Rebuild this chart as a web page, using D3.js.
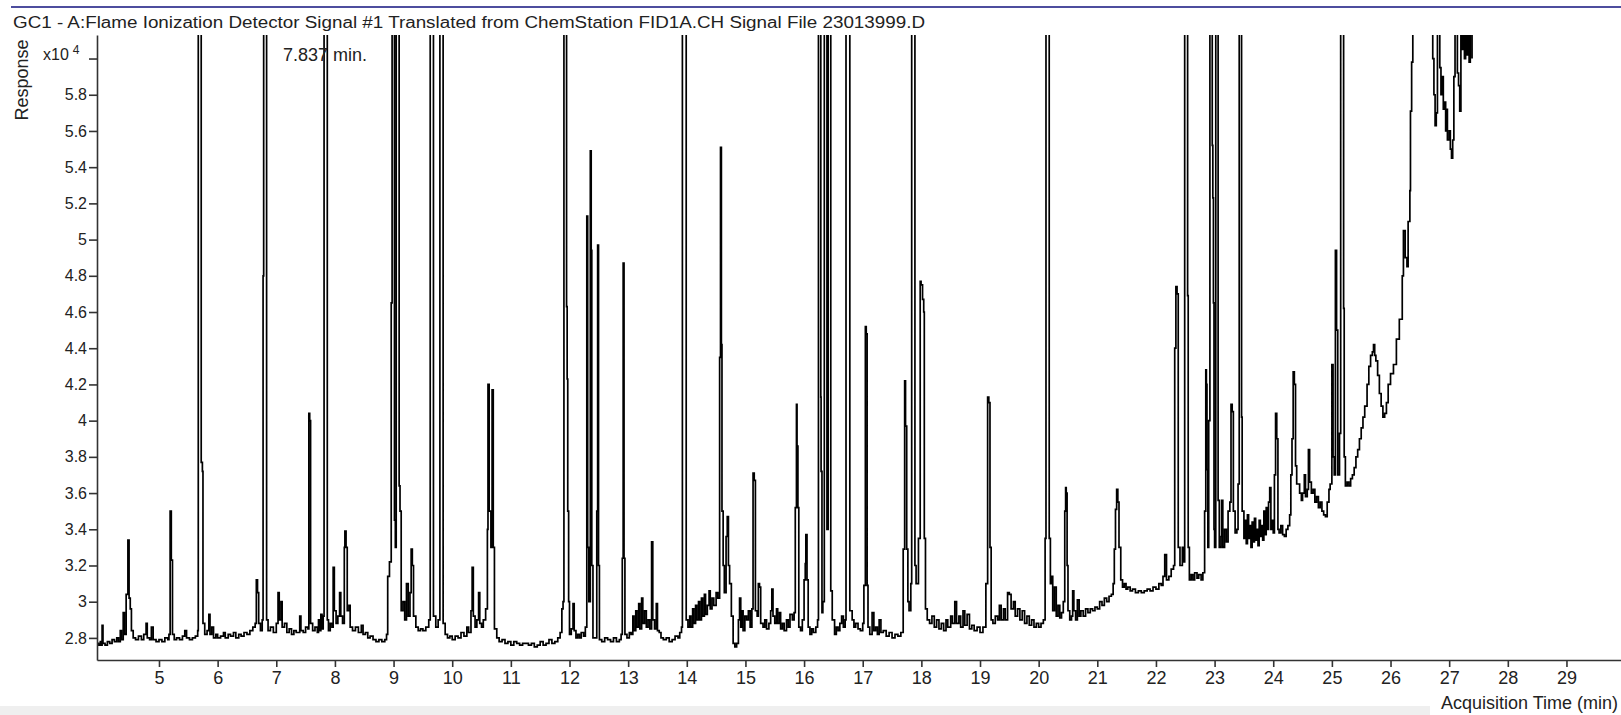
<!DOCTYPE html>
<html>
<head>
<meta charset="utf-8">
<script src="https://cdn.jsdelivr.net/npm/d3@7"></script>
<style>
  body { margin: 0; background: #fff; }
  svg { display: block; font-family: "Liberation Sans", Arial, sans-serif; }
  .axis path, .axis line { stroke: #333; stroke-width: 1.6; }
  .axis text { fill: #222; }
</style>
</head>
<body>
<div id="vis"></div>
<script>
var viewWidth = 1621;
var viewHeight = 715;

/* Acquisition time ticks (min) */
var timeTicks = [5, 6, 7, 8, 9, 10, 11, 12, 13, 14, 15, 16, 17, 18, 19, 20, 21, 22, 23, 24, 25, 26, 27, 28, 29];

/* Response ticks (x10^4); the top one carries the exponent label */
var responseTicks = [2.8, 3.0, 3.2, 3.4, 3.6, 3.8, 4.0, 4.2, 4.4, 4.6, 4.8, 5.0, 5.2, 5.4, 5.6, 5.8, 6.0];

/* Marked peak */
var markerLabel = "7.837 min.";

/* Signal: [time (min), response (x10^4)]
   peaks that leave the top of the window are given a value above it */
var signal04to08 = [
  [3.94,2.77],[3.97,2.76],[4.0,2.78],[4.02,2.76],[4.03,2.87],[4.045,2.77],[4.08,2.76],[4.12,2.78],[4.16,2.77],[4.2,2.79],
  [4.24,2.78],[4.28,2.80],[4.31,2.78],[4.34,2.84],[4.36,2.79],[4.39,2.94],[4.41,2.82],[4.44,3.04],[4.47,3.34],[4.49,3.02],
  [4.51,2.96],[4.53,2.84],[4.56,2.80],[4.6,2.79],[4.65,2.81],[4.7,2.79],[4.74,2.82],[4.78,2.88],[4.8,2.80],[4.84,2.79],
  [4.87,2.86],[4.9,2.79],[4.95,2.78],[5.0,2.79],[5.05,2.78],[5.1,2.80],[5.15,2.79],[5.17,2.82],[5.19,3.50],[5.21,3.23],
  [5.23,2.82],[5.26,2.79],[5.3,2.80],[5.35,2.79],[5.4,2.81],[5.44,2.84],[5.47,2.80],[5.52,2.79],[5.57,2.80],[5.62,2.81],
  [5.66,2.84],[5.67,6.6],[5.71,6.6],[5.72,3.77],[5.74,3.72],[5.75,2.88],[5.78,2.82],[5.82,2.84],[5.85,2.93],[5.87,2.82],
  [5.9,2.86],[5.93,2.80],[5.97,2.82],[6.0,2.80],[6.05,2.81],[6.1,2.83],[6.13,2.80],[6.18,2.82],[6.22,2.81],[6.27,2.83],
  [6.31,2.80],[6.36,2.82],[6.4,2.81],[6.45,2.83],[6.5,2.82],[6.55,2.84],[6.6,2.86],[6.64,2.88],[6.66,3.12],[6.68,3.05],
  [6.70,2.88],[6.73,2.84],[6.76,2.90],[6.775,4.8],[6.785,6.6],[6.825,6.6],[6.835,2.9],[6.86,2.84],[6.9,2.86],[6.95,2.83],
  [7.0,2.88],[7.03,3.05],[7.05,2.9],[7.08,3.0],[7.1,2.86],[7.14,2.88],[7.18,2.83],[7.22,2.85],[7.26,2.82],[7.3,2.84],
  [7.34,2.83],[7.4,2.92],[7.42,2.84],[7.46,2.83],[7.5,2.86],[7.54,2.85],[7.555,4.04],[7.57,4.0],[7.585,2.88],[7.62,2.84],
  [7.66,2.86],[7.7,2.83],[7.72,2.9],[7.74,2.84],[7.76,2.93],[7.78,2.85],[7.8,2.92],[7.815,6.6],[7.855,6.6],[7.87,2.9],
  [7.89,2.84],[7.92,2.88],[7.95,2.86],[7.97,3.19],[7.99,2.95]
];

var signal08to12 = [
  [8.02,2.88],[8.05,2.92],[8.08,3.05],[8.1,2.92],[8.13,2.88],[8.16,3.3],[8.17,3.39],[8.19,3.3],[8.21,2.95],[8.24,2.98],
  [8.26,2.86],[8.3,2.84],[8.35,2.86],[8.4,2.83],[8.45,2.87],[8.48,2.82],[8.52,2.83],[8.56,2.80],[8.6,2.81],[8.65,2.79],
  [8.7,2.78],[8.75,2.79],[8.8,2.78],[8.85,2.79],[8.88,2.82],[8.9,3.14],[8.93,3.22],[8.96,4.65],[8.975,6.6],[9.0,6.6],
  [9.015,3.45],[9.03,3.3],[9.045,6.6],[9.08,6.6],[9.095,3.64],[9.11,3.5],[9.13,2.95],[9.16,3.0],[9.19,2.9],[9.22,3.1],
  [9.25,2.92],[9.28,3.05],[9.3,3.29],[9.32,3.2],[9.34,2.92],[9.38,2.86],[9.42,2.84],[9.46,2.85],[9.5,2.84],[9.55,2.86],
  [9.6,2.9],[9.625,6.6],[9.665,6.6],[9.68,2.92],[9.72,2.86],[9.76,2.9],[9.79,6.6],[9.83,6.6],[9.845,2.88],[9.88,2.82],
  [9.92,2.80],[9.96,2.81],[10.0,2.79],[10.05,2.81],[10.1,2.80],[10.15,2.83],[10.2,2.81],[10.25,2.86],[10.28,2.83],[10.32,2.95],
  [10.34,3.19],[10.36,2.92],[10.39,2.86],[10.42,2.9],[10.45,3.05],[10.47,2.88],[10.5,2.86],[10.53,2.9],[10.57,2.96],[10.6,3.4],
  [10.61,4.2],[10.63,3.5],[10.66,3.3],[10.68,4.17],[10.7,3.3],[10.72,2.85],[10.76,2.80],[10.8,2.78],[10.85,2.79],[10.9,2.77],
  [10.95,2.78],[11.0,2.76],[11.05,2.78],[11.1,2.77],[11.15,2.76],[11.2,2.77],[11.3,2.76],[11.35,2.77],[11.4,2.75],[11.45,2.76],
  [11.5,2.78],[11.55,2.76],[11.6,2.77],[11.65,2.79],[11.7,2.77],[11.75,2.78],[11.8,2.8],[11.84,2.83],[11.87,2.96],[11.89,3.0],
  [11.905,6.6],[11.94,6.6],[11.95,4.63],[11.96,4.23],[11.97,3.5],[11.985,3.0]
];

var signal12to16 = [
  [12.0,2.82],[12.03,2.85],[12.06,2.99],[12.08,2.84],[12.11,2.8],[12.14,2.82],[12.17,2.8],[12.2,2.83],[12.24,2.81],[12.27,2.86],
  [12.295,5.13],[12.31,3.3],[12.33,3.0],[12.355,5.49],[12.37,4.94],[12.38,3.2],[12.4,2.8],[12.44,2.8],[12.465,3.5],[12.48,4.97],
  [12.495,3.2],[12.51,2.79],[12.55,2.78],[12.6,2.80],[12.65,2.79],[12.7,2.78],[12.75,2.80],[12.8,2.78],[12.85,2.79],[12.88,2.82],
  [12.9,3.24],[12.915,4.87],[12.93,3.24],[12.945,2.82],[12.98,2.8],[13.02,2.83],[13.05,2.82],[13.08,2.92],[13.1,2.84],[13.13,2.95],
  [13.15,2.86],[13.18,2.99],[13.2,2.85],[13.23,3.02],[13.25,2.88],[13.28,2.95],[13.31,2.86],[13.34,2.9],[13.37,2.85],[13.4,3.33],
  [13.42,2.9],[13.45,2.85],[13.48,2.99],[13.5,2.84],[13.53,2.83],[13.56,2.8],[13.6,2.79],[13.65,2.8],[13.7,2.78],[13.75,2.79],
  [13.8,2.81],[13.85,2.8],[13.88,2.83],[13.91,2.86],[13.925,6.6],[13.975,6.6],[13.99,2.9],[14.02,2.86],[14.05,2.92],[14.07,2.86],
  [14.1,2.96],[14.12,2.88],[14.15,2.98],[14.17,2.9],[14.2,3.0],[14.22,2.9],[14.25,3.02],[14.27,2.92],[14.3,3.04],[14.32,2.93],
  [14.35,2.98],[14.38,3.06],[14.4,2.96],[14.43,3.02],[14.46,2.98],[14.5,3.05],[14.53,3.02],[14.56,4.35],[14.575,5.51],[14.59,4.42],
  [14.6,3.5],[14.62,3.2],[14.64,3.05],[14.67,3.36],[14.69,3.47],[14.71,3.2],[14.73,3.1],[14.76,2.92],[14.79,2.77],[14.82,2.75],
  [14.85,2.77],[14.88,2.9],[14.9,3.02],[14.92,2.86],[14.94,2.95],[14.96,2.84],[14.99,2.92],[15.02,2.9],[15.05,2.95],[15.08,2.86],
  [15.11,2.96],[15.13,3.71],[15.15,3.67],[15.17,2.95],[15.2,2.92],[15.22,3.1],[15.24,3.08],[15.26,2.88],[15.3,2.86],[15.33,2.9],
  [15.36,2.85],[15.4,2.88],[15.43,2.95],[15.45,3.07],[15.47,2.92],[15.5,2.88],[15.53,2.96],[15.55,2.88],[15.58,2.94],[15.6,2.85],
  [15.63,2.88],[15.66,2.84],[15.7,2.9],[15.73,2.86],[15.76,2.93],[15.8,2.9],[15.83,2.94],[15.85,3.52],[15.87,4.09],[15.88,3.86],
  [15.895,3.52],[15.91,2.86],[15.94,2.84],[15.97,2.9]
];

var signal16to20 = [
  [16.0,3.12],[16.02,3.21],[16.03,3.37],[16.05,3.12],[16.07,2.86],[16.1,2.82],[16.13,2.85],[16.16,2.83],[16.2,2.86],[16.23,2.9],
  [16.245,6.6],[16.275,6.6],[16.285,4.13],[16.29,3.72],[16.305,2.94],[16.32,3.0],[16.345,6.6],[16.38,6.6],[16.39,3.4],[16.41,6.6],
  [16.44,6.6],[16.455,3.06],[16.48,2.9],[16.52,2.82],[16.55,2.86],[16.58,2.84],[16.61,2.88],[16.64,2.92],[16.67,2.86],[16.7,2.9],
  [16.715,6.6],[16.765,6.6],[16.78,2.95],[16.82,2.9],[16.85,2.86],[16.88,2.88],[16.92,2.85],[16.96,2.84],[17.0,2.88],[17.02,3.09],
  [17.045,4.52],[17.06,4.48],[17.075,3.09],[17.09,2.86],[17.12,2.82],[17.16,2.94],[17.19,2.84],[17.22,2.86],[17.25,2.82],[17.28,2.9],
  [17.31,2.83],[17.35,2.84],[17.4,2.81],[17.45,2.83],[17.5,2.8],[17.55,2.82],[17.6,2.81],[17.65,2.83],[17.69,3.29],[17.715,4.22],
  [17.73,3.97],[17.75,3.29],[17.77,3.0],[17.79,2.95],[17.82,3.1],[17.835,6.6],[17.875,6.6],[17.89,3.2],[17.91,3.1],[17.95,3.35],
  [17.98,4.77],[17.995,4.75],[18.02,4.67],[18.04,4.6],[18.05,3.35],[18.07,2.96],[18.1,2.9],[18.14,2.88],[18.18,2.92],[18.22,2.86],
  [18.26,2.9],[18.3,2.85],[18.34,2.88],[18.38,2.84],[18.42,2.9],[18.45,2.86],[18.5,2.92],[18.53,2.88],[18.57,3.0],[18.6,2.88],
  [18.64,2.92],[18.67,2.86],[18.71,2.95],[18.74,2.87],[18.78,2.93],[18.82,2.85],[18.86,2.87],[18.9,2.84],[18.95,2.86],[19.0,2.83],
  [19.05,2.86],[19.1,3.1],[19.13,4.13],[19.15,4.1],[19.17,3.3],[19.19,2.9],[19.22,2.88],[19.26,2.92],[19.3,2.9],[19.33,2.98],
  [19.36,2.9],[19.4,2.96],[19.43,2.9],[19.47,3.05],[19.5,3.04],[19.53,2.96],[19.57,3.0],[19.6,2.92],[19.64,2.96],[19.68,2.9],
  [19.72,2.95],[19.76,2.88],[19.8,2.92],[19.84,2.87],[19.88,2.9],[19.92,2.86],[19.96,2.88]
];

var signal20to24 = [
  [20.0,2.86],[20.04,2.88],[20.08,2.9],[20.11,3.35],[20.125,6.6],[20.165,6.6],[20.18,3.35],[20.2,3.1],[20.22,3.14],[20.24,2.95],
  [20.27,3.08],[20.3,2.92],[20.33,2.98],[20.36,2.91],[20.39,2.94],[20.42,3.0],[20.445,3.5],[20.46,3.63],[20.47,3.6],[20.485,3.2],
  [20.5,2.95],[20.53,2.9],[20.56,2.92],[20.58,3.06],[20.6,2.95],[20.63,2.9],[20.66,3.01],[20.69,2.92],[20.72,2.95],[20.76,2.92],
  [20.8,2.96],[20.84,2.94],[20.88,2.96],[20.92,2.95],[20.96,2.97],[21.0,2.96],[21.04,3.0],[21.08,2.98],[21.12,3.02],[21.16,3.0],
  [21.2,3.03],[21.24,3.04],[21.27,3.1],[21.29,3.29],[21.31,3.51],[21.33,3.62],[21.35,3.55],[21.37,3.3],[21.4,3.12],[21.43,3.08],
  [21.46,3.1],[21.49,3.07],[21.52,3.08],[21.56,3.06],[21.6,3.07],[21.65,3.05],[21.7,3.06],[21.75,3.05],[21.8,3.06],[21.85,3.07],
  [21.9,3.06],[21.95,3.08],[22.0,3.07],[22.05,3.1],[22.09,3.09],[22.12,3.14],[22.15,3.26],[22.18,3.12],[22.22,3.14],[22.26,3.18],
  [22.3,3.2],[22.32,4.4],[22.34,4.74],[22.36,4.7],[22.38,3.3],[22.41,3.2],[22.45,3.3],[22.47,3.22],[22.49,6.6],[22.53,6.6],
  [22.54,4.69],[22.55,3.3],[22.57,3.12],[22.6,3.15],[22.63,3.12],[22.66,3.16],[22.7,3.13],[22.73,3.15],[22.77,3.12],[22.8,3.16],
  [22.83,3.5],[22.85,4.28],[22.86,4.2],[22.87,3.73],[22.885,3.3],[22.9,4.0],[22.92,6.6],[22.95,6.6],[22.96,5.52],[22.97,5.23],
  [22.98,4.65],[22.99,3.4],[23.0,3.3],[23.02,6.6],[23.05,6.6],[23.06,3.56],[23.08,3.3],[23.11,3.36],[23.12,3.56],[23.14,3.3],
  [23.17,3.4],[23.2,3.33],[23.23,3.5],[23.26,3.55],[23.28,4.09],[23.3,4.05],[23.32,3.5],[23.35,3.38],[23.38,3.4],[23.4,3.65],
  [23.42,6.6],[23.45,6.6],[23.46,4.02],[23.47,3.5],[23.5,3.35],[23.52,3.45],[23.54,3.32],[23.56,3.48],[23.58,3.35],[23.6,3.42],
  [23.62,3.3],[23.64,3.44],[23.66,3.33],[23.68,3.46],[23.7,3.34],[23.72,3.4],[23.74,3.31],[23.76,3.45],[23.78,3.36],[23.8,3.42],
  [23.82,3.34],[23.84,3.5],[23.86,3.37],[23.88,3.52],[23.9,3.4],[23.92,3.55],[23.94,3.63],[23.96,3.4],[23.98,3.45]
];

var signal24to28 = [
  [24.0,3.38],[24.02,3.7],[24.04,4.04],[24.06,3.9],[24.08,3.4],[24.1,3.38],[24.13,3.42],[24.16,3.37],[24.19,3.36],[24.22,3.4],
  [24.25,3.42],[24.28,3.48],[24.3,3.7],[24.32,3.9],[24.34,4.27],[24.36,4.2],[24.38,3.75],[24.4,3.65],[24.42,3.65],[24.45,3.6],
  [24.48,3.56],[24.5,3.6],[24.53,3.7],[24.55,3.58],[24.58,3.62],[24.6,3.84],[24.62,3.66],[24.65,3.6],[24.68,3.62],[24.71,3.55],
  [24.74,3.58],[24.77,3.52],[24.8,3.55],[24.83,3.5],[24.86,3.48],[24.89,3.47],[24.92,3.55],[24.95,3.62],[24.97,3.65],[25.0,4.31],
  [25.02,3.8],[25.04,3.7],[25.06,4.94],[25.08,4.5],[25.1,3.7],[25.13,3.93],[25.15,6.6],[25.19,6.6],[25.2,4.62],[25.21,3.8],
  [25.23,3.64],[25.26,3.66],[25.29,3.64],[25.32,3.68],[25.35,3.7],[25.38,3.74],[25.41,3.8],[25.44,3.84],[25.47,3.9],[25.5,3.96],
  [25.53,4.02],[25.56,4.08],[25.6,4.2],[25.63,4.3],[25.66,4.36],[25.69,4.38],[25.71,4.42],[25.73,4.36],[25.75,4.33],[25.78,4.25],
  [25.81,4.15],[25.84,4.08],[25.87,4.02],[25.9,4.04],[25.93,4.1],[25.96,4.2],[26.0,4.26],[26.05,4.31],[26.1,4.45],[26.15,4.56],
  [26.2,4.8],[26.22,5.05],[26.25,4.9],[26.28,4.85],[26.3,5.1],[26.33,5.27],[26.34,5.71],[26.36,5.98],[26.38,6.5],[26.5,6.9],
  [26.65,6.8],[26.7,6.3],[26.72,6.0],[26.74,5.8],[26.76,5.63],[26.78,5.7],[26.8,6.4],[26.82,6.3],[26.84,5.95],[26.86,5.8],
  [26.88,5.9],[26.9,5.72],[26.92,5.76],[26.94,5.6],[26.96,5.72],[26.97,5.55],[27.0,5.6],[27.02,5.5],[27.04,5.45],[27.06,5.55],
  [27.08,5.9],[27.1,6.4],[27.12,6.3],[27.14,5.92],[27.16,5.85],[27.18,5.71],[27.2,6.4],[27.22,6.05],[27.24,6.3],[27.26,6.0],
  [27.28,6.3],[27.3,6.02],[27.32,6.25],[27.34,5.98],[27.36,6.2],[27.39,6.0]
];

var signal = signal04to08.concat(signal08to12, signal12to16, signal16to20, signal20to24, signal24to28);

/* Plot area in page pixels */
var plot = {left: 97, right: 1621, top: 35, bottom: 660};

var x = d3.scaleLinear()
    .domain([3.943, 29.93])
    .range([plot.left, plot.right]);

var y = d3.scaleLinear()
    .domain([2.678, 6.13])
    .range([plot.bottom, plot.top]);

var svg = d3.select("#vis")
    .append("svg")
    .attr("width", viewWidth)
    .attr("height", viewHeight);

/* Blue rule and title strip at the top */
svg.append("line")
    .attr("x1", 11).attr("x2", viewWidth)
    .attr("y1", 7).attr("y2", 7)
    .attr("stroke", "#4d4d9e")
    .attr("stroke-width", 2);

svg.append("text")
    .attr("x", 13)
    .attr("y", 28)
    .attr("font-size", 16)
    .attr("fill", "#222")
    .attr("textLength", 912)
    .attr("lengthAdjust", "spacingAndGlyphs")
    .text("GC1 - A:Flame Ionization Detector Signal #1 Translated from ChemStation FID1A.CH Signal File 23013999.D");

/* Light strip at the very bottom */
svg.append("rect")
    .attr("x", 0).attr("y", 706)
    .attr("width", 1430).attr("height", 9)
    .attr("fill", "#efefef");

/* Clip the trace to the plot window */
svg.append("clipPath")
    .attr("id", "plotClip")
    .append("rect")
    .attr("x", plot.left)
    .attr("y", plot.top)
    .attr("width", plot.right - plot.left)
    .attr("height", plot.bottom - plot.top);

/* The detector trace is drawn as held samples, hence the step curve */
var line = d3.line()
    .curve(d3.curveStepAfter)
    .x(function(d) { return x(d[0]); })
    .y(function(d) { return y(d[1]); });

svg.append("path")
    .datum(signal)
    .attr("clip-path", "url(#plotClip)")
    .attr("fill", "none")
    .attr("stroke", "#000")
    .attr("stroke-width", 1.7)
    .attr("d", line);

/* Axes */
var bottomAxis = d3.axisBottom(x)
    .tickValues(timeTicks)
    .tickSize(7)
    .tickSizeOuter(0)
    .tickPadding(4)
    .tickFormat(d3.format("d"));

svg.append("g")
    .attr("class", "axis")
    .attr("transform", "translate(0," + plot.bottom + ")")
    .call(bottomAxis)
    .selectAll("text")
    .attr("font-size", 18)
    .attr("font-family", "Liberation Sans, Arial, sans-serif");

var leftAxis = d3.axisLeft(y)
    .tickValues(responseTicks)
    .tickSize(8)
    .tickSizeOuter(0)
    .tickPadding(2)
    .tickFormat(function(d) { return d === 6.0 ? "" : String(+d.toFixed(1)); });

svg.append("g")
    .attr("class", "axis")
    .attr("transform", "translate(" + plot.left + ",0)")
    .call(leftAxis)
    .selectAll("text")
    .attr("font-size", 16)
    .attr("font-family", "Liberation Sans, Arial, sans-serif");

/* Exponent label in place of the top tick */
var expLabel = svg.append("text")
    .attr("x", 43)
    .attr("y", y(6.0) + 1)
    .attr("font-size", 16)
    .attr("fill", "#222");
expLabel.append("tspan").text("x10");
expLabel.append("tspan")
    .attr("dx", 4)
    .attr("dy", -6)
    .attr("font-size", 12)
    .text("4");

/* Axis titles */
svg.append("text")
    .attr("transform", "translate(28,80) rotate(-90)")
    .attr("text-anchor", "middle")
    .attr("font-size", 18)
    .attr("fill", "#222")
    .text("Response");

svg.append("text")
    .attr("x", 1618)
    .attr("y", 709)
    .attr("text-anchor", "end")
    .attr("font-size", 18)
    .attr("fill", "#222")
    .text("Acquisition Time (min)");

/* Peak annotation */
svg.append("text")
    .attr("x", 283)
    .attr("y", 61)
    .attr("font-size", 18)
    .attr("fill", "#222")
    .text(markerLabel);
</script>
</body>
</html>
